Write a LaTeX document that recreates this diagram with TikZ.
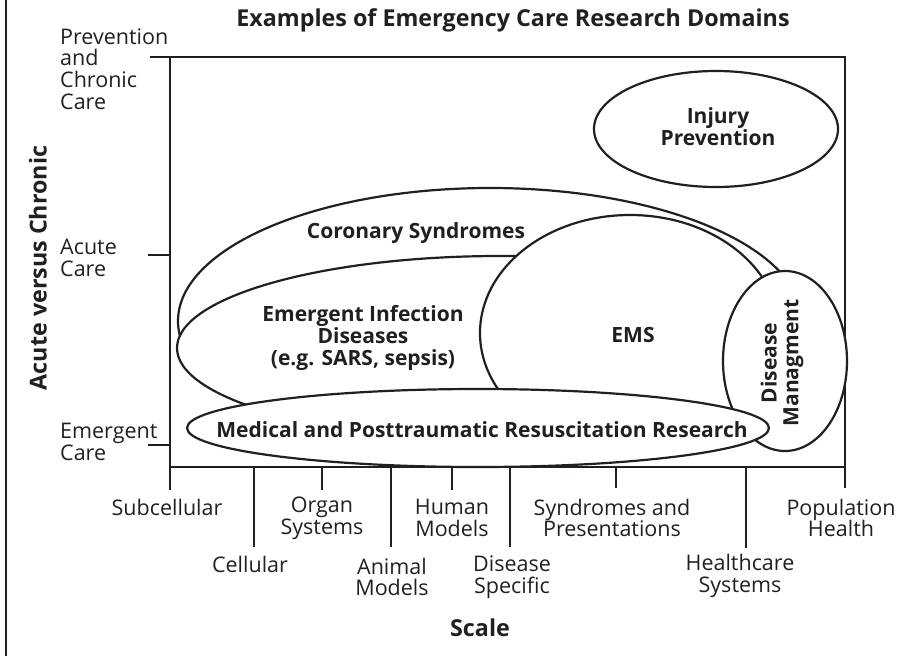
\documentclass[tikz,border=0pt]{standalone}
\usepackage{fontspec}
\setmainfont{Open Sans}
\usetikzlibrary{calc}
\definecolor{ink}{HTML}{231F20}
\tikzset{
	axis/.style={line width=2.6pt, color=ink},
	area/.style={line width=2.2pt, draw=ink, fill=white},
	lab/.style={text=ink, inner sep=0pt, align=center, font=\fontsize{21.5}{21.7}\selectfont},
	bold lab/.style={lab, font=\fontsize{21}{21.8}\selectfont\bfseries},
	head lab/.style={lab, font=\fontsize{23.3}{24}\selectfont\bfseries}
}

\begin{document}
\begin{tikzpicture}[x=1pt, y=-1pt]
			%%%%% START %%%%%
			\useasboundingbox (0, 0) rectangle (914, 656);
			\draw[line width=1.8pt, color=ink] (6, 0) -- (6, 656);
			
			\node[head lab] (title) at (513, 20) {Examples of Emergency Care Research Domains};
			
			% axes with ticks
			\draw[axis] (150, 57) -- (845, 57) -- (845, 488);
			\draw[axis] (170, 57) -- (170, 490);
			\draw[axis] (170, 467) -- (845, 467);
			\draw[axis] (148, 255) -- (170, 255);
			\draw[axis] (148, 445) -- (170, 445);
			\draw[axis] (254, 467) -- (254, 547);
			\draw[axis] (322, 467) -- (322, 490);
			\draw[axis] (391, 467) -- (391, 547);
			\draw[axis] (452, 467) -- (452, 490);
			\draw[axis] (510, 467) -- (510, 547);
			\draw[axis] (616, 467) -- (616, 488);
			\draw[axis] (746, 467) -- (746, 548);
			
			% vertical axis
			\node[head lab, rotate=90] (yaxis) at (38, 268) {Acute versus Chronic};
			\node[lab, anchor=west, align=left] (chronic) at (60, 69) {Prevention\\and\\Chronic\\Care};
			\node[lab, anchor=west, align=left] (acute) at (60, 258) {Acute\\Care};
			\node[lab, anchor=west, align=left] (emergent) at (60, 442) {Emergent\\Care};
			
			% horizontal axis
			\node[lab] (subcell) at (167, 507) {Subcellular};
			\node[lab] (cell) at (250, 564) {Cellular};
			\node[lab] (organ) at (322, 518) {Organ\\Systems};
			\node[lab] (animal) at (392, 577) {Animal\\Models};
			\node[lab] (human) at (452, 518) {Human\\Models};
			\node[lab] (specific) at (512, 577) {Disease\\Specific};
			\node[lab] (syndr) at (612, 518) {Syndromes and\\Presentations};
			\node[lab] (health) at (740, 576) {Healthcare\\Systems};
			\node[lab] (popul) at (841, 518) {Population\\Health};
			\node[head lab] (scale) at (480, 628) {Scale};
			
			% domains
			\draw[area] (716, 129) ellipse [x radius=122pt, y radius=58pt];
			\node[bold lab] (injury) at (718, 127) {Injury\\Prevention};
			
			\draw[area] (490, 321) ellipse [x radius=312pt, y radius=133pt];
			\node[bold lab] (coronary) at (416, 233) {Coronary Syndromes};
			
			\draw[area] (500, 348) ellipse [x radius=323pt, y radius=92pt];
			\node[bold lab] (infect) at (363, 338) {Emergent Infection\\Diseases\\(e.g. SARS, sepsis)};
			
			\draw[area] (630, 333) ellipse [x radius=150pt, y radius=118pt];
			\node[bold lab] (ems) at (633, 335) {EMS};
			
			\draw[area] (785, 361) ellipse [x radius=62pt, y radius=90pt];
			\node[bold lab, rotate=90] (manage) at (782, 363) {Disease\\Managment};
			
			\draw[area] (478, 428) ellipse [x radius=291pt, y radius=39pt];
			\node[bold lab] (resus) at (482, 430) {Medical and Posttraumatic Resuscitation Research};
			%%%%% END %%%%%
		\end{tikzpicture}
\end{document}
